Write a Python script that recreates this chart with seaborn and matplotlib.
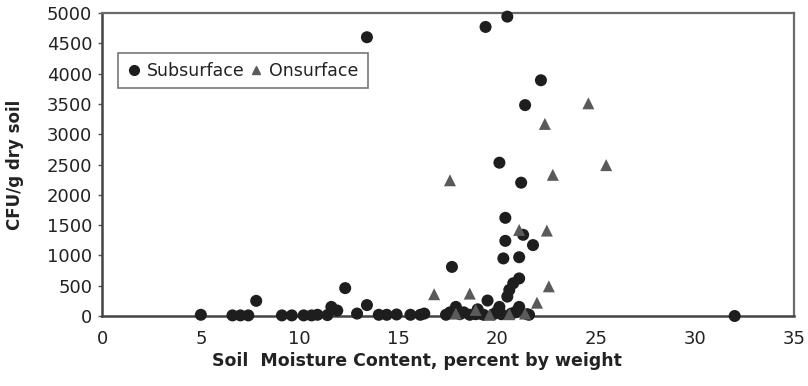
import matplotlib
matplotlib.use("Agg")
import matplotlib.pyplot as plt
from matplotlib.lines import Line2D
import seaborn as sns
import pandas as pd

# ---- data ----
sub_x = [5.0, 6.6, 7.0, 7.4, 7.8, 9.1, 9.6, 10.2, 10.6, 10.9, 11.4, 11.6, 11.9, 12.3,
         12.9, 13.4, 13.4, 14.0, 14.4, 14.9, 15.6, 16.1, 16.3, 17.4, 17.6, 17.7, 17.9,
         18.1, 18.3, 18.6, 18.9, 19.0, 19.1, 19.3, 19.4, 19.5, 19.8, 20.0, 20.1, 20.1,
         20.2, 20.3, 20.4, 20.4, 20.5, 20.5, 20.6, 20.7, 20.8, 20.9, 21.0, 21.1, 21.1,
         21.1, 21.2, 21.3, 21.4, 21.5, 21.6, 21.8, 22.2, 32.0]
sub_y = [20, 10, 10, 10, 250, 10, 10, 10, 10, 20, 15, 150, 90, 460,
         40, 180, 4600, 20, 20, 25, 20, 20, 40, 20, 60, 810, 150,
         30, 60, 20, 30, 110, 40, 20, 4770, 255, 30, 80, 150, 2530,
         30, 950, 1620, 1240, 320, 4940, 430, 40, 540, 60, 90, 620, 970,
         150, 2200, 1340, 3480, 30, 20, 1170, 3890, 0]

on_x = [16.8, 17.6, 17.9, 18.6, 18.9, 19.6, 20.6, 21.1, 21.4, 22.0, 22.4, 22.5,
        22.6, 22.8, 24.6, 25.5]
on_y = [360, 2240, 40, 370, 100, 20, 30, 1420, 40, 220, 3170, 1410,
        490, 2330, 3510, 2490]

series_names = ["Subsurface", "Onsurface"]
x_ticks = [0, 5, 10, 15, 20, 25, 30, 35]
y_ticks = [0, 500, 1000, 1500, 2000, 2500, 3000, 3500, 4000, 4500, 5000]

df = pd.DataFrame({
    "moisture": sub_x + on_x,
    "cfu": sub_y + on_y,
    "series": [series_names[0]] * len(sub_x) + [series_names[1]] * len(on_x),
})

sns.set_theme(style="white")
plt.rcParams["font.family"] = ["DejaVu Sans"]

fig = plt.figure(figsize=(8.08, 3.86), dpi=100)
ax = fig.add_axes([102 / 808, 70 / 386, 692 / 808, 303 / 386])

colors = {"Subsurface": "#1e1e1e", "Onsurface": "#5a5a5a"}
markers = {"Subsurface": "o", "Onsurface": "^"}

sns.scatterplot(data=df, x="moisture", y="cfu", hue="series", style="series",
                palette=colors, markers=markers, s=75, linewidth=0,
                legend=False, ax=ax, clip_on=False, zorder=3)

ax.set_xlim(0, 35)
ax.set_ylim(0, 5000)
ax.set_xticks(x_ticks)
ax.set_yticks(y_ticks)
ax.set_xticklabels([str(v) for v in x_ticks])
ax.set_yticklabels([str(v) for v in y_ticks])
ax.tick_params(axis="y", which="major", direction="out", length=3, width=1,
               color="#555555", pad=4, labelsize=13, labelcolor="#222222", left=True)
ax.tick_params(axis="x", which="major", direction="out", length=0, width=1,
               color="#555555", pad=10, labelsize=13, labelcolor="#222222", bottom=True)

for side in ["top", "right"]:
    ax.spines[side].set_color("#6a6a6a")
    ax.spines[side].set_linewidth(1.6)
for side in ["left", "bottom"]:
    ax.spines[side].set_color("#444444")
    ax.spines[side].set_linewidth(1.8)

ax.set_xlabel("Soil  Moisture Content, percent by weight", fontsize=12.5,
              fontweight="bold", color="#222222")
ax.set_ylabel("CFU/g dry soil", fontsize=12, fontweight="bold", color="#222222")
ax.xaxis.set_label_coords(0.455, -0.118)
ax.yaxis.set_label_coords(-0.112, 0.5)

handles = [
    Line2D([], [], marker="o", linestyle="none", color=colors["Subsurface"], markersize=7),
    Line2D([], [], marker="^", linestyle="none", color=colors["Onsurface"], markersize=6),
]
leg = ax.legend(handles, series_names, loc="upper left", bbox_to_anchor=(0.023, 0.868),
                borderaxespad=0, ncol=2, frameon=True, fancybox=False,
                fontsize=12.5, handlelength=0.8, handletextpad=0.35, columnspacing=0.3,
                borderpad=0.5)
leg.get_frame().set_edgecolor("#555555")
leg.get_frame().set_linewidth(1.2)
for t in leg.get_texts():
    t.set_color("#222222")

fig.savefig("out.png", dpi=100)
